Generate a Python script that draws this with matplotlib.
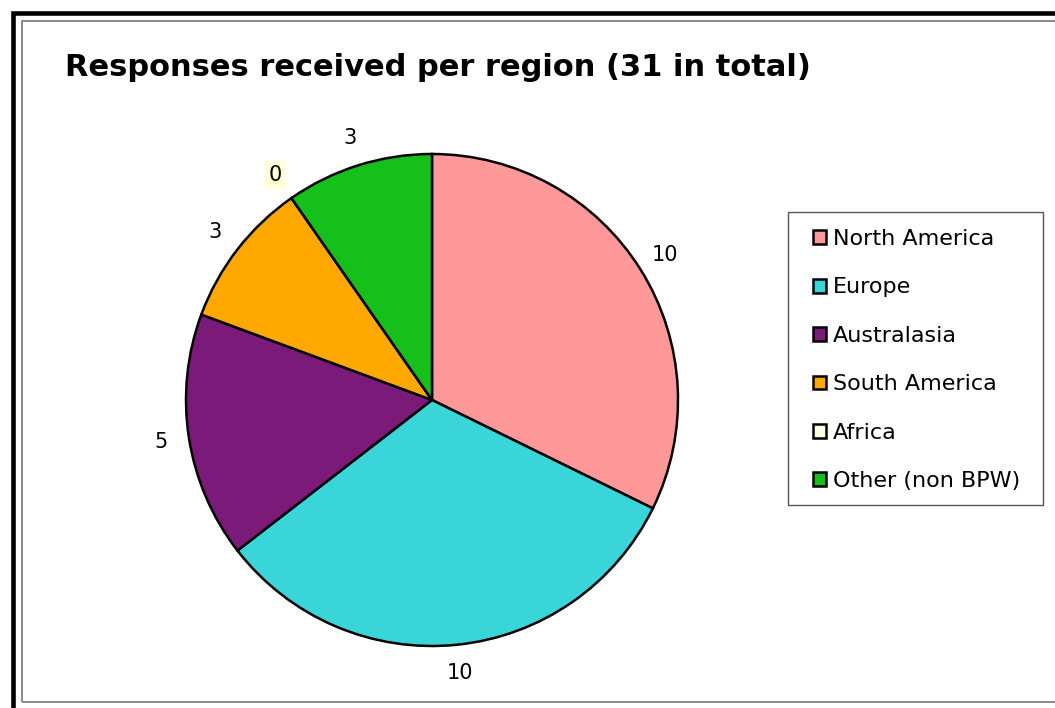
import matplotlib
matplotlib.use("Agg")
import matplotlib.pyplot as plt
from matplotlib.patches import Rectangle

# data
regions = ['North America', 'Europe', 'Australasia', 'South America', 'Africa', 'Other (non BPW)']
responses = [10, 10, 5, 3, 0, 3]
colors = ['#FF9999', '#3AD5D8', '#7B1A78', '#FFA800', '#FFFFDD', '#16C01A']
title = 'Responses received per region (31 in total)'

W, H = 1055, 708
fig = plt.figure(figsize=(W / 100, H / 100), dpi=100)
fig.patch.set_facecolor('white')

# frame lines around the chart (outer thick black, inner thin gray)
fig.add_artist(Rectangle((12.5 / W, 1 - 1000 / H), 2000 / W, (1000 - 13) / H,
                         transform=fig.transFigure, fill=False, ec='black', lw=3.3, clip_on=False))
fig.add_artist(Rectangle((22 / W, 1 - 702 / H), 2000 / W, (702 - 20.5) / H,
                         transform=fig.transFigure, fill=False, ec='#777777', lw=1.2, clip_on=False))

# pie axes: centre (432, 400) px, radius 246 px
cx, cy, r = 432, 400, 246
ax = fig.add_axes([(cx - r) / W, (H - cy - r) / H, 2 * r / W, 2 * r / H])
wedges, texts = ax.pie(responses, colors=colors, startangle=90, counterclock=False,
                       labels=[str(v) for v in responses], labeldistance=1.115,
                       wedgeprops=dict(edgecolor='black', linewidth=1.8),
                       textprops=dict(fontsize=15, family='DejaVu Sans'))
for t, v in zip(texts, responses):
    t.set_ha('center')
    t.set_va('center')
    if v == 0:
        t.set_bbox(dict(facecolor='#FFFFD8', edgecolor='none', pad=3))
ax.set_xlim(-1, 1)
ax.set_ylim(-1, 1)
ax.set_aspect('equal')

fig.text(65 / W, 1 - 67 / H, title, fontsize=22, fontweight='bold',
         family='DejaVu Sans', ha='left', va='center')

# legend frame drawn separately so the padding matches
fig.add_artist(Rectangle((788 / W, 1 - 505 / H), (1043 - 788) / W, (505 - 212) / H,
                         transform=fig.transFigure, fill=False, ec='#555555', lw=1.0))
leg = fig.legend(wedges, regions, loc='upper left', bbox_to_anchor=(813 / W, 1 - 229 / H),
                 bbox_transform=fig.transFigure, borderaxespad=0, frameon=False,
                 prop=dict(family='DejaVu Sans', size=16),
                 handlelength=0.59, handleheight=0.59, handletextpad=0.3,
                 labelspacing=1.28, borderpad=0)

fig.savefig('out.png', dpi=100)
